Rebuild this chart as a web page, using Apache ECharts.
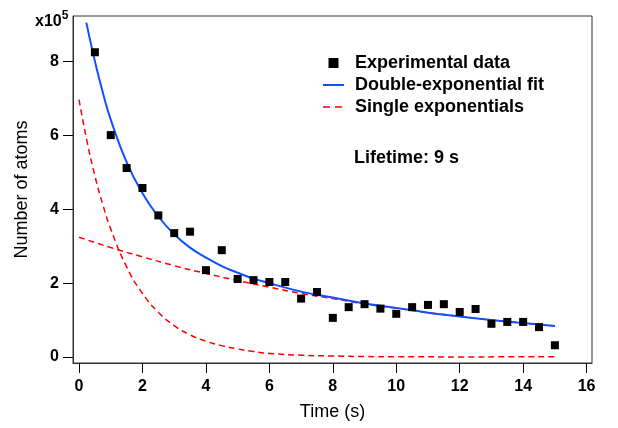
<!DOCTYPE html>
<html>
<head>
<meta charset="utf-8">
<script src="https://cdn.jsdelivr.net/npm/echarts@6/dist/echarts.min.js"></script>
<style>
  html, body { margin: 0; padding: 0; background: #fff; }
  #chart { width: 618px; height: 428px; }
</style>
</head>
<body>
<div id="chart"></div>
<script>
// values in units of 1e5 atoms
const timeData = [0.5, 1, 1.5, 2, 2.5, 3, 3.5, 4, 4.5, 5, 5.5, 6, 6.5, 7, 7.5, 8, 8.5, 9, 9.5, 10, 10.5, 11, 11.5, 12, 12.5, 13, 13.5, 14, 14.5, 15];
const atomsData = [8.24, 6.0, 5.11, 4.57, 3.83, 3.35, 3.39, 2.35, 2.89, 2.11, 2.08, 2.03, 2.03, 1.58, 1.76, 1.06, 1.35, 1.43, 1.31, 1.17, 1.35, 1.41, 1.43, 1.22, 1.30, 0.90, 0.95, 0.95, 0.81, 0.32];

const fitTime = [0.23, 0.5, 0.75, 1, 1.5, 2, 2.5, 3, 3.5, 4, 4.5, 5, 5.5, 6, 7, 8, 9, 10, 11, 12, 13, 14, 15];
const fitValues = [9.04, 8.0, 7.15, 6.42, 5.27, 4.43, 3.80, 3.32, 2.96, 2.69, 2.46, 2.28, 2.12, 2.00, 1.77, 1.61, 1.45, 1.33, 1.20, 1.10, 1.00, 0.92, 0.84];

const fastTime = [0, 0.25, 0.5, 0.75, 1, 1.5, 2, 2.5, 3, 3.5, 4, 4.5, 5, 5.5, 6, 7, 8, 9, 10, 12, 15];
const fastValues = [6.96, 5.84, 4.90, 4.12, 3.46, 2.44, 1.72, 1.21, 0.85, 0.60, 0.43, 0.31, 0.22, 0.15, 0.10, 0.05, 0.03, 0.015, 0.01, 0.005, 0.01];

const slowTime = [0, 1, 2, 3, 4, 5, 6, 7, 8, 9, 10, 11, 12, 13, 14, 15];
const slowValues = [3.24, 2.96, 2.71, 2.47, 2.26, 2.07, 1.89, 1.72, 1.58, 1.44, 1.32, 1.20, 1.10, 1.00, 0.92, 0.84];

const xTicks = [0, 2, 4, 6, 8, 10, 12, 14, 16];
const yTicks = [0, 2, 4, 6, 8];

const pairs = (xs, ys) => xs.map((x, i) => [x, ys[i]]);

const font = "'Liberation Sans', Arial, sans-serif";
const axisColor = "#333";

const myChart = echarts.init(document.getElementById("chart"));
const option = {
  animation: false,
  grid: {
    left: 73,
    right: 26,
    top: 16,
    bottom: 65,
    show: true,
    borderColor: axisColor,
    borderWidth: 1,
  },
  legend: {
    orient: "vertical",
    left: 322,
    top: 54,
    padding: 0,
    itemGap: 4,
    itemWidth: 21,
    itemHeight: 10,
    textStyle: {
      fontFamily: font,
      fontWeight: "bold",
      fontSize: 18,
      color: "#000",
      padding: [0, 0, 0, 6],
    },
    data: [
      { name: "Experimental data", icon: "path://M0,0H10V10H0Z", itemStyle: { opacity: 1 } },
      { name: "Double-exponential fit", itemStyle: { opacity: 0 } },
      { name: "Single exponentials", itemStyle: { opacity: 0 }, lineStyle: { type: [7, 5], width: 1.5 } },
    ],
  },
  xAxis: {
    type: "value",
    min: -0.19,
    max: 16.17,
    name: "Time (s)",
    nameLocation: "middle",
    nameGap: 40,
    nameTextStyle: { fontFamily: font, fontSize: 18, color: "#000" },
    splitLine: { show: false },
    axisLine: { onZero: false, lineStyle: { color: axisColor, width: 1 } },
    axisTick: {
      inside: false,
      length: 10,
      customValues: xTicks,
      lineStyle: { color: "#000", width: 1 },
    },
    axisLabel: {
      customValues: xTicks,
      margin: 16,
      fontFamily: font,
      fontWeight: "bold",
      fontSize: 16,
      color: "#000",
    },
  },
  yAxis: {
    type: "value",
    min: -0.16,
    max: 9.22,
    name: "Number of atoms",
    nameLocation: "middle",
    nameGap: 42,
    nameTextStyle: { fontFamily: font, fontSize: 18, color: "#000" },
    splitLine: { show: false },
    axisLine: { onZero: false, lineStyle: { color: axisColor, width: 1 } },
    axisTick: {
      inside: false,
      length: 10,
      customValues: yTicks,
      lineStyle: { color: "#000", width: 1 },
    },
    axisLabel: {
      customValues: yTicks,
      margin: 14,
      fontFamily: font,
      fontWeight: "bold",
      fontSize: 16,
      color: "#000",
    },
  },
  graphic: [
    {
      type: "text",
      left: 35,
      top: 10,
      style: {
        text: "{b|x10}{s|5}",
        rich: {
          b: { fontFamily: font, fontWeight: "bold", fontSize: 16, fill: "#000", verticalAlign: "bottom" },
          s: { fontFamily: font, fontWeight: "bold", fontSize: 12, fill: "#000", verticalAlign: "top", padding: [0, 0, 8, 0] },
        },
      },
    },
    {
      type: "text",
      left: 354,
      top: 149,
      style: {
        text: "Lifetime: 9 s",
        fontFamily: font,
        fontWeight: "bold",
        fontSize: 18,
        fill: "#000",
      },
    },
  ],
  series: [
    {
      name: "Single exponentials",
      type: "line",
      data: pairs(fastTime, fastValues),
      symbol: "none",
      smooth: true,
      lineStyle: { color: "#ff0000", width: 1.5, type: [6, 4] },
      itemStyle: { color: "#ff0000" },
      z: 2,
    },
    {
      name: "Single exponentials",
      type: "line",
      data: pairs(slowTime, slowValues),
      symbol: "none",
      smooth: true,
      lineStyle: { color: "#ff0000", width: 1.5, type: [6, 4] },
      itemStyle: { color: "#ff0000" },
      z: 2,
    },
    {
      name: "Double-exponential fit",
      type: "line",
      data: pairs(fitTime, fitValues),
      symbol: "none",
      smooth: true,
      lineStyle: { color: "#1050ff", width: 2 },
      itemStyle: { color: "#1050ff" },
      z: 3,
    },
    {
      name: "Experimental data",
      type: "scatter",
      data: pairs(timeData, atomsData),
      symbol: "rect",
      symbolSize: 8,
      itemStyle: { color: "#000", opacity: 1 },
      z: 4,
    },
  ],
};
myChart.setOption(option);
window.addEventListener("resize", function () {
  myChart.resize();
});
</script>
</body>
</html>
